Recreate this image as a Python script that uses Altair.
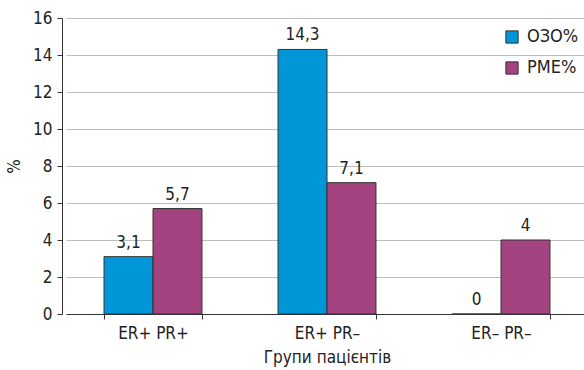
import altair as alt
import pandas as pd

groups = ["ER+ PR+", "ER+ PR–", "ER– PR–"]
series = ["ОЗО%", "РМЕ%"]
ozo = [3.1, 14.3, 0.0]
pme = [5.7, 7.1, 4.0]
colors = ["#0096d8", "#a3437f"]

rows = []
for g, a, b in zip(groups, ozo, pme):
    rows.append({"group": g, "series": series[0], "value": a, "label": f"{a:g}".replace(".", ",")})
    rows.append({"group": g, "series": series[1], "value": b, "label": f"{b:g}".replace(".", ",")})
df = pd.DataFrame(rows)

FONT = "DejaVu Sans Condensed, Roboto, Liberation Sans, sans-serif"

xscale = alt.Scale(paddingInner=0.437, paddingOuter=0.2185, range=[4, 526])
x = alt.X("group:N", sort=groups, title="Групи пацієнтів", scale=xscale,
          axis=alt.Axis(labelAngle=0, labelFontSize=17, titleFontSize=17, grid=False,
                        labelPadding=6, titlePadding=8, tickBand="extent",
                        tickSize=5, domainColor="#333", tickColor="#333",
                        labelColor="#222", titleColor="#222", titleFontWeight="normal"))
xo = alt.XOffset("series:N", sort=series, scale=alt.Scale(paddingInner=0, paddingOuter=0))
yaxis = alt.Axis(tickCount=8, labelFontSize=17, titleFontSize=17,
                 labelOverlap=False, grid=True,
                 tickSize=5, labelPadding=5, titlePadding=9,
                 domainColor="#333", tickColor="#333", gridColor="#bdbdbd",
                 labelColor="#222", titleColor="#222", titleFontWeight="normal")
y = alt.Y("value:Q", title="%", scale=alt.Scale(domain=[0, 16], nice=False), axis=yaxis)

bars = alt.Chart(df).mark_bar(stroke="#333", strokeWidth=1).encode(
    x=x, xOffset=xo, y=y,
    color=alt.Color("series:N", sort=series,
                    scale=alt.Scale(domain=series, range=colors),
                    legend=alt.Legend(title=None, orient="none", legendX=441, legendY=10,
                                      symbolType="square", symbolSize=150,
                                      symbolStrokeColor="#333", symbolStrokeWidth=1,
                                      labelFontSize=18, labelColor="#222",
                                      rowPadding=13, labelOffset=6)),
)
text = alt.Chart(df).mark_text(dy=-14, fontSize=17, color="#222", font=FONT).encode(
    x=x, xOffset=xo, y=y, text="label:N")

chart = alt.layer(bars, text).properties(
    width=522, height=296,
    padding={"left": 62, "top": 18, "right": 0, "bottom": 56},
    autosize=alt.AutoSizeParams(type="none"),
).configure(font=FONT).configure_view(stroke=None)

chart.save("out.html", embed_options={"renderer": "svg", "actions": False})
